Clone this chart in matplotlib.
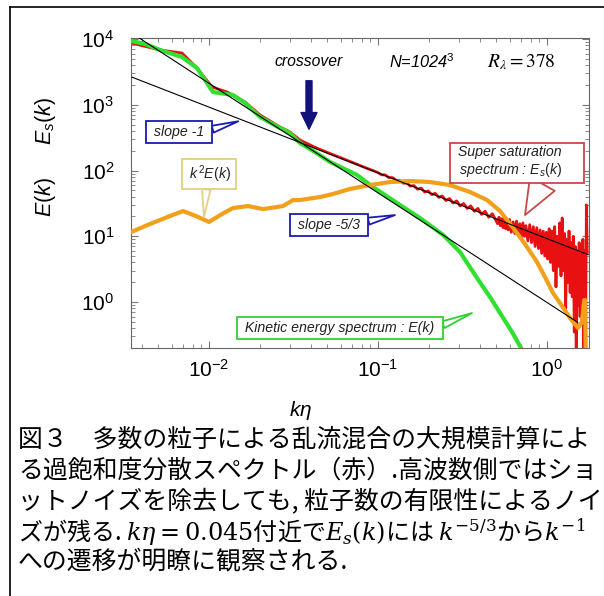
import numpy as np
import matplotlib
matplotlib.use("Agg")
import matplotlib.pyplot as plt
from matplotlib.lines import Line2D
from matplotlib.patches import FancyArrowPatch

plt.rcParams["font.family"] = ["Liberation Sans", "DejaVu Sans"]
plt.rcParams["mathtext.fontset"] = "custom"
plt.rcParams["mathtext.rm"] = "Liberation Sans"
plt.rcParams["mathtext.it"] = "Liberation Sans:italic"
plt.rcParams["mathtext.bf"] = "Liberation Sans:bold"

# kinetic energy spectrum E(k)
ke_k = [0.00346, 0.00418, 0.00513, 0.00692, 0.00849, 0.01056, 0.01387, 0.01634,
        0.02005, 0.0263, 0.03015, 0.03454, 0.04236, 0.05198, 0.07513, 0.09335,
        0.1349, 0.1774, 0.2427, 0.3057, 0.3854, 0.4603, 0.5273, 0.6211, 0.7019, 0.793]
ke_E = [9330, 8400, 6810, 5320, 3620, 1560, 1407, 1063,
        652, 443, 372, 262, 191, 135, 85.4, 56.1,
        29.9, 18.9, 10.5, 5.76, 2.32, 1.19, 0.681, 0.350, 0.200, 0.110]

# super saturation spectrum Es(k)
es_k = [0.00346, 0.00513, 0.00692, 0.00849, 0.01042, 0.01279, 0.01634, 0.02005,
        0.0263, 0.03015, 0.03454, 0.038, 0.042, 0.046, 0.050, 0.055, 0.060, 0.066,
        0.072, 0.079, 0.087, 0.095,
        0.100, 0.105, 0.110, 0.116, 0.122, 0.128, 0.134, 0.141, 0.148, 0.155,
        0.163, 0.171, 0.180, 0.189, 0.198, 0.208, 0.218, 0.229, 0.240, 0.252,
        0.265, 0.278, 0.292, 0.306, 0.321, 0.337, 0.354, 0.372, 0.390, 0.410,
        0.430, 0.452, 0.475, 0.498,
        0.51, 0.52, 0.53, 0.54, 0.55, 0.56, 0.57, 0.58, 0.59, 0.60,
        0.615, 0.63, 0.645, 0.66, 0.675, 0.69, 0.705, 0.72, 0.735, 0.75,
        0.77, 0.79, 0.81, 0.83, 0.85, 0.87, 0.89, 0.91, 0.93, 0.95,
        0.97, 0.99, 1.01, 1.03, 1.05, 1.07, 1.09, 1.11, 1.13, 1.15,
        1.17, 1.19, 1.21, 1.23, 1.25, 1.27, 1.29, 1.31, 1.33, 1.35,
        1.37, 1.39, 1.41, 1.43, 1.45, 1.47, 1.49, 1.51, 1.53, 1.55,
        1.57, 1.59, 1.61, 1.63, 1.65, 1.67, 1.69, 1.71, 1.73]
es_E = [8690, 6810, 6120, 3620, 1862, 1563, 1102, 699,
        459, 385, 291, 258, 228, 206, 189, 171, 157, 142,
        130, 118, 107, 98,
        93, 86, 86, 78, 78, 71, 71, 64, 65, 58,
        59, 52, 54, 47, 49, 43, 45, 39, 41, 35,
        37.5, 32, 34.5, 29, 31.5, 26.5, 29, 24, 26.5, 21.5,
        24, 19.5, 22, 17.5,
        15.5, 19.5, 14.5, 18.5, 13.5, 19, 13, 17.5, 12.5, 18,
        11.5, 16.5, 11, 17, 10.5, 15.5, 9.5, 16, 10, 14.5,
        8.5, 15, 8.0, 14, 7.0, 13.5, 6.5, 12.5, 5.5, 12,
        5.0, 11.5, 4.5, 13, 4.0, 12, 3.0, 14, 1.7, 10,
        3.5, 16, 2.5, 19, 3.0, 11, 0.8, 9, 2.0, 12,
        1.4, 8, 1.2, 10, 0.35, 7, 0.1, 6, 0.9, 8,
        0.6, 5, 1.5, 9, 0.1, 6, 0.1, 30, 5.5]

# k^2 E(k)
k2e_k = [0.00346, 0.00448, 0.00588, 0.00702, 0.00838, 0.0100, 0.01194, 0.01387,
         0.01702, 0.02089, 0.02742, 0.03143, 0.03454, 0.03802, 0.04541, 0.0542,
         0.0683, 0.0897, 0.1178, 0.1546, 0.2031, 0.2667, 0.3501, 0.4416, 0.5273,
         0.58, 0.6643, 0.7616, 0.873, 0.973, 1.085, 1.228, 1.368, 1.525, 1.61,
         1.66, 1.68, 1.70]
k2e_E = [11.6, 15.4, 20.3, 24.2, 20.3, 16.5, 21.8, 26.9,
         28.8, 25.9, 28.8, 35.6, 35.6, 36.9, 39.5, 44.0,
         52.4, 60.2, 66.8, 69.2, 66.8, 60.2, 47.1, 35.6, 24.2,
         17.7, 11.2, 6.86, 4.05, 2.40, 1.37, 0.869, 0.571, 0.403, 0.497,
         1.07, 1.07, 0.1]

# reference slopes (end points)
slope53_k = [0.0035, 1.52]
slope53_E = [12200, 0.49]
slope1_k = [0.0035, 1.75]
slope1_E = [2630, 5.26]

W, H = 604, 596


def fpx(x, y):
    # pixel position (from top-left) -> figure fraction
    return (x / W, 1 - y / H)


fig = plt.figure(figsize=(W / 100, H / 100), dpi=100)
ax = fig.add_axes([131 / W, 1 - 348 / H, (589 - 131) / W, (348 - 38) / H])

ax.plot(es_k, es_E, color="#e81010", lw=2.0, zorder=2)
ax.plot(ke_k, ke_E, color="#30e030", lw=3.0, zorder=3)
ax.plot(k2e_k, k2e_E, color="#f2a01c", lw=3.0, zorder=4)
ax.plot(slope53_k, slope53_E, color="black", lw=0.8, zorder=5)
ax.plot(slope1_k, slope1_E, color="black", lw=0.8, zorder=5)

ax.set_xscale("log")
ax.set_yscale("log")
ax.set_xlim(0.003455, 1.772)
ax.set_ylim(0.2, 10350)

for s in ax.spines.values():
    s.set_color("#666666")
ax.tick_params(which="both", direction="in", top=True, right=True,
               color="#777777", labelsize=15)
ax.tick_params(which="major", length=5)
ax.tick_params(which="minor", length=3)
ax.tick_params(axis="y", pad=12)
ax.tick_params(axis="x", pad=8)

fig.text(*fpx(301, 410), r"$k\eta$", fontsize=15, ha="center", va="center")
fig.text(*fpx(46, 197), r"$\mathit{E(k)}$", fontsize=15.5,
         rotation=90, ha="center", va="center")
fig.text(*fpx(46, 121), r"$\mathit{E_s(k)}$", fontsize=15.5,
         rotation=90, ha="center", va="center")

fig.text(*fpx(309, 62), "crossover", fontsize=11.3, style="italic",
         ha="center", va="center")
fig.text(*fpx(422, 62), r"N=1024$^{\mathit{3}}$", fontsize=11.8, style="italic",
         ha="center", va="center")
fig.text(*fpx(521, 62), r"$R_\lambda = 378$", fontsize=14,
         math_fontfamily="stix", ha="center", va="center")

arrow = FancyArrowPatch(posA=fpx(309, 78), posB=fpx(309, 132),
                        transform=fig.transFigure,
                        arrowstyle="simple,head_length=1.0,head_width=0.96,tail_width=0.36",
                        mutation_scale=12, color="#12127a")
fig.add_artist(arrow)


def callout(text, xy, center, color, relpos, tail=0.6, ha="center"):
    ax.annotate(text, xy=xy, xycoords="data", xytext=fpx(*center),
                textcoords="figure fraction", ha=ha, va="center",
                fontsize=10.2, style="italic", color="#222222", zorder=7,
                bbox=dict(boxstyle="square,pad=0.28", fc="white", ec=color, lw=1.3),
                arrowprops=dict(arrowstyle="wedge,tail_width=%g,shrink_factor=0.5" % tail,
                                fc="white", ec=color, lw=1.3, relpos=relpos,
                                shrinkA=0, shrinkB=0))


callout(" slope -1 ", (0.0149, 560), (179, 132), "#1a1ab4", (1, 0.6), 0.5)
callout(" slope -5/3 ", (0.126, 21), (329, 225), "#1a1ab4", (1, 0.7), 0.5)
callout(r" $\mathit{k^2E(k)}$ ", (0.00933, 19.6), (209, 174), "#e0d080", (0.45, 0), 0.6)
callout(" Super saturation     \n spectrum : $\\mathit{E_s(k)}$     ", (0.741, 21),
        (517, 162), "#c84848", (0.72, 0), 2.0)
callout(" Kinetic energy spectrum : E(k) ", (0.36, 0.68), (340, 328), "#30d030",
        (1, 0.6), 0.5)

# caption
caption = [
    "図３　多数の粒子による乱流混合の大規模計算によ",
    "る過飽和度分散スペクトル（赤）.高波数側ではショ",
    "ットノイズを除去しても, 粒子数の有限性によるノイ",
    r"ズが残る. $k\eta = 0.045$付近で$E_s(k)$には $k^{-5/3}$から$k^{-1}$",
    "への遷移が明瞭に観察される.",
]
caption_size = [17.9, 17.9, 17.9, 17.3, 17.9]
for i, line in enumerate(caption):
    fig.text(*fpx(18, 440 + i * 30.7), line, fontsize=caption_size[i],
             family=["Noto Sans CJK JP", "DejaVu Sans"], math_fontfamily="dejavuserif",
             ha="left", va="center")

# frame
fig.add_artist(Line2D([10 / W, 1], [1 - 7 / H, 1 - 7 / H], color="black", lw=1.2))
fig.add_artist(Line2D([10 / W, 10 / W], [1 - 7 / H, 0], color="black", lw=1.2))

fig.savefig("out.png", dpi=100)
